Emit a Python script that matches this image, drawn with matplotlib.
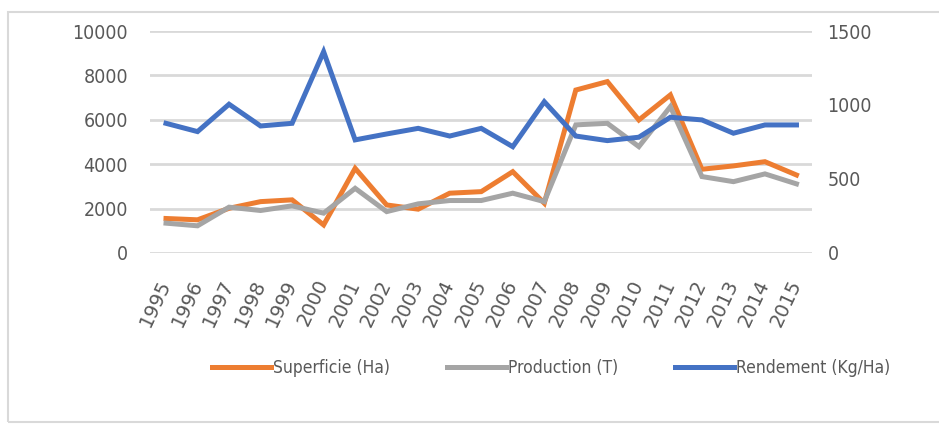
import matplotlib
matplotlib.use('Agg')
from matplotlib import pyplot as plt
from matplotlib.patches import Rectangle

years = [str(y) for y in range(1995, 2016)]
superficie = [1550, 1490, 2010, 2310, 2390, 1260, 3810, 2160, 1970, 2690, 2760, 3660,
              2240, 7340, 7720, 5990, 7120, 3770, 3920, 4110, 3510]
production = [1340, 1220, 2060, 1910, 2120, 1790, 2910, 1860, 2210, 2360, 2360, 2690,
              2310, 5770, 5840, 4790, 6590, 3440, 3210, 3560, 3110]
rendement = [876, 820, 1005, 858, 876, 1360, 764, 804, 842, 790, 842, 718,
             1022, 790, 759, 782, 917, 899, 809, 865, 865]

plt.rcParams['font.family'] = ['DejaVu Sans']
plt.rcParams['font.stretch'] = 'condensed'
txt = '#595959'

fig = plt.figure(figsize=(9.39, 4.25), dpi=100)
# chart area border (right side runs off the picture)
fig.patches.append(Rectangle((8/939, 3/425), 950/939, 410/425, transform=fig.transFigure,
                             fill=False, edgecolor='#D9D9D9', lw=1.5))

ax = fig.add_axes([0.16, 0.405, 0.705, 0.522])
x = range(len(years))
l1, = ax.plot(x, superficie, color='#ED7D31', lw=3.6, solid_joinstyle='miter')
l2, = ax.plot(x, production, color='#A5A5A5', lw=3.6, solid_joinstyle='miter')
ax.set_ylim(0, 10000)
ax.set_yticks(range(0, 10001, 2000))
ax.set_xlim(-0.5, len(years) - 0.5)
ax.set_xticks(list(x))
ax.set_xticklabels(years, rotation=65, ha='right', va='center', rotation_mode='anchor',
                   fontstretch='normal', fontsize=13.5)
ax.grid(axis='y', color='#D9D9D9', lw=2)
ax.set_axisbelow(True)

ax2 = ax.twinx()
l3, = ax2.plot(x, rendement, color='#4472C4', lw=3.6, solid_joinstyle='miter')
ax2.set_ylim(0, 1500)
ax2.set_yticks(range(0, 1501, 500))

for a in (ax, ax2):
    for s in a.spines.values():
        s.set_visible(False)
    a.tick_params(length=0, colors=txt, labelsize=14)
ax.tick_params(axis='y', pad=16)
ax.tick_params(axis='x', pad=20)
ax2.tick_params(axis='y', pad=11)

fig.legend([l1, l2, l3], ['Superficie (Ha)', 'Production (T)', 'Rendement (Kg/Ha)'],
           loc='center', bbox_to_anchor=(0.587, 0.134), ncol=3, frameon=False,
           fontsize=12.5, labelcolor=txt, handlelength=3.4, handletextpad=0.1,
           columnspacing=3.3)

fig.savefig('out.png', dpi=100, facecolor='white')
